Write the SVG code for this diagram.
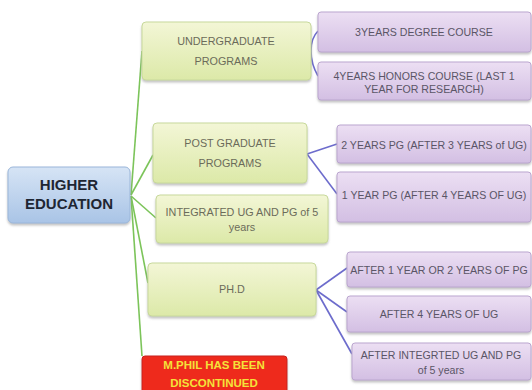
<svg xmlns="http://www.w3.org/2000/svg" width="532" height="390" viewBox="0 0 532 390">
<defs>
<linearGradient id="gG" x1="0" y1="0" x2="0" y2="1"><stop offset="0" stop-color="#f3f6d6"/><stop offset="1" stop-color="#dce9a8"/></linearGradient>
<linearGradient id="gB" x1="0" y1="0" x2="0" y2="1"><stop offset="0" stop-color="#d6e4f5"/><stop offset="1" stop-color="#a9c4e6"/></linearGradient>
<linearGradient id="gP" x1="0" y1="0" x2="0" y2="1"><stop offset="0" stop-color="#ecdff3"/><stop offset="1" stop-color="#d3bfe3"/></linearGradient>
<filter id="sh" x="-10%" y="-10%" width="120%" height="130%"><feDropShadow dx="0" dy="2" stdDeviation="1.2" flood-color="#888" flood-opacity="0.5"/></filter>
</defs>
<style>
.g{fill:url(#gG);stroke:#c8d99c;stroke-width:1;filter:url(#sh)}
.b{fill:url(#gB);stroke:#9ab6da;stroke-width:1;filter:url(#sh)}
.p{fill:url(#gP);stroke:#bba6cf;stroke-width:1;filter:url(#sh)}
.r{fill:#ee2a1a;stroke:#c8201a;stroke-width:1;filter:url(#sh)}
text{font-family:"Liberation Sans",Arial,sans-serif;text-anchor:middle}
.tg{font-size:10.8px;fill:#6b6b5a}
.tp{font-size:10.6px;fill:#5a5566}
.th{font-size:15px;font-weight:bold;fill:#1e2633}
.tr{font-size:11.5px;font-weight:bold;fill:#f4e23a}
.cg{stroke:#7cc45a;stroke-width:1.6;fill:none}
.cp{stroke:#6d6ccc;stroke-width:1.6;fill:none}
</style>
<rect width="532" height="390" fill="#fff"/>
<g id="connectors">
<path class="cg" d="M131 195 L142 51"/>
<path class="cg" d="M131 195 L153 155"/>
<path class="cg" d="M131 196 L156 218"/>
<path class="cg" d="M131 196 L148 283"/>
<path class="cg" d="M131 196 L142 356"/>
<path class="cp" d="M318 31 Q311 38 311 51 Q311 64 318 76"/>
<path class="cp" d="M307 154 L337 144"/>
<path class="cp" d="M307 154 L337 194"/>
<path class="cp" d="M316 290 L347 268"/>
<path class="cp" d="M316 290 L347 312"/>
<path class="cp" d="M316 290 L352 354"/>
</g>
<g id="higher-education">
<rect class="b" x="8" y="167" width="122" height="56" rx="5"/>
<text class="th" x="69" y="190">HIGHER</text>
<text class="th" x="69" y="209">EDUCATION</text>
</g>
<g id="undergraduate">
<rect class="g" x="142" y="22" width="169" height="58" rx="4"/>
<text class="tg" x="226" y="45">UNDERGRADUATE</text>
<text class="tg" x="226" y="65">PROGRAMS</text>
</g>
<g id="postgraduate">
<rect class="g" x="153" y="123" width="154" height="60" rx="4"/>
<text class="tg" x="230" y="147">POST GRADUATE</text>
<text class="tg" x="230" y="167">PROGRAMS</text>
</g>
<g id="integrated">
<rect class="g" x="156" y="195" width="172" height="48" rx="4"/>
<text class="tg" x="242" y="216">INTEGRATED UG AND PG of 5</text>
<text class="tg" x="242" y="231">years</text>
</g>
<g id="phd">
<rect class="g" x="148" y="263" width="168" height="53" rx="4"/>
<text class="tg" x="232" y="293">PH.D</text>
</g>
<g id="mphil">
<rect class="r" x="142" y="356" width="145" height="40" rx="3"/>
<text class="tr" x="214" y="369">M.PHIL HAS BEEN</text>
<text class="tr" x="214" y="387">DISCONTINUED</text>
</g>
<g id="ug3">
<rect class="p" x="318" y="12" width="213" height="40" rx="3"/>
<text class="tp" x="424" y="36">3YEARS DEGREE COURSE</text>
</g>
<g id="ug4">
<rect class="p" x="318" y="62" width="213" height="38" rx="3"/>
<text class="tp" x="424" y="80">4YEARS HONORS COURSE (LAST 1</text>
<text class="tp" x="424" y="93">YEAR FOR RESEARCH)</text>
</g>
<g id="pg2">
<rect class="p" x="337" y="125" width="194" height="38" rx="3"/>
<text class="tp" x="434" y="149">2 YEARS PG (AFTER 3 YEARS of UG)</text>
</g>
<g id="pg1">
<rect class="p" x="337" y="172" width="194" height="50" rx="3"/>
<text class="tp" x="434" y="199">1 YEAR PG (AFTER 4 YEARS OF UG)</text>
</g>
<g id="phd1">
<rect class="p" x="347" y="252" width="184" height="35" rx="3"/>
<text class="tp" x="439" y="274">AFTER 1 YEAR OR 2 YEARS OF PG</text>
</g>
<g id="phd2">
<rect class="p" x="347" y="296" width="184" height="36" rx="3"/>
<text class="tp" x="439" y="318">AFTER 4 YEARS OF UG</text>
</g>
<g id="phd3">
<rect class="p" x="352" y="343" width="179" height="37" rx="3"/>
<text class="tp" x="441" y="359">AFTER INTEGRTED UG AND PG</text>
<text class="tp" x="441" y="374">of 5 years</text>
</g>
</svg>
